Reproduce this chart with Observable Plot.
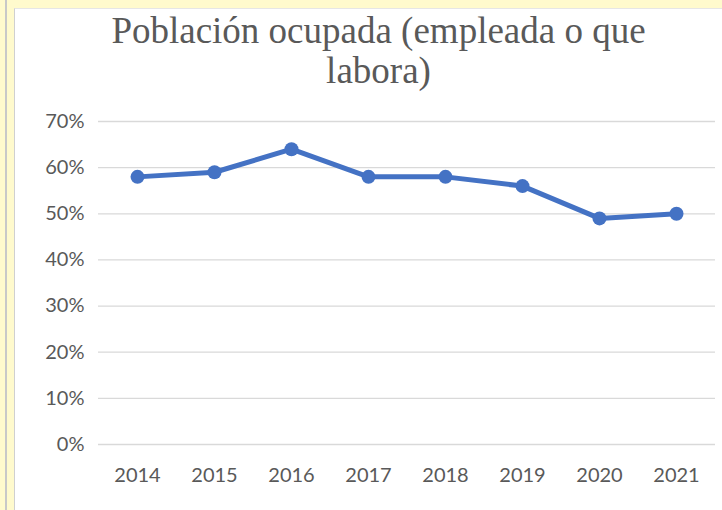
<!DOCTYPE html>
<html><head><meta charset="utf-8">
<script src="https://cdn.jsdelivr.net/npm/d3@7"></script>
<script src="https://cdn.jsdelivr.net/npm/@observablehq/plot@0.6"></script>
<style>
html,body{margin:0;padding:0;width:722px;height:510px;overflow:hidden;background:#FFFACD;}
#edge{position:absolute;left:5px;top:0;width:2px;height:510px;background:#c8c8c8;}
#box{position:absolute;left:14px;top:8px;width:720px;height:510px;background:#fff;border-left:1px solid #d0d0d0;border-top:1px solid #e6e6e6;}
#title{position:absolute;left:0;top:0;width:727px;text-align:center;font-family:"Liberation Serif","Times New Roman",serif;font-size:37px;line-height:40px;color:#595959;padding-top:2px;}
#chart{position:absolute;left:0;top:90px;}
</style></head><body>
<div id="edge"></div>
<div id="box">
<div id="title">Población ocupada (empleada o que<br>labora)</div>
<div id="chart"></div>
</div>
<script>
const years = ["2014","2015","2016","2017","2018","2019","2020","2021"];
const values = [0.58,0.59,0.64,0.58,0.58,0.56,0.49,0.50];
const yTicks = [0,0.1,0.2,0.3,0.4,0.5,0.6,0.7];
const data = years.map((y,i)=>({year:y,value:values[i]}));
const chart = Plot.plot({
  width:707, height:411,
  marginLeft:83, marginRight:7, marginTop:22, marginBottom:66,
  style:{fontFamily:"Lato, 'Open Sans', sans-serif", fontSize:"20px", color:"#595959", background:"transparent"},
  x:{type:"point", domain:years, padding:0.5, label:null},
  y:{domain:[0,0.7], ticks:yTicks, tickFormat:d=>Math.round(d*100)+"%", label:null},
  marks:[
    Plot.ruleY(yTicks,{stroke:"#d9d9d9",strokeWidth:1.3}),
    Plot.axisY({ticks:yTicks, tickSize:0, tickPadding:14, tickFormat:d=>Math.round(d*100)+"%", label:null}),
    Plot.axisX({tickSize:0, tickPadding:23, label:null}),
    Plot.line(data,{x:"year",y:"value",stroke:"#4472C4",strokeWidth:5}),
    Plot.dot(data,{x:"year",y:"value",fill:"#4472C4",r:7})
  ]
});
document.getElementById("chart").appendChild(chart);
</script>
</body></html>
